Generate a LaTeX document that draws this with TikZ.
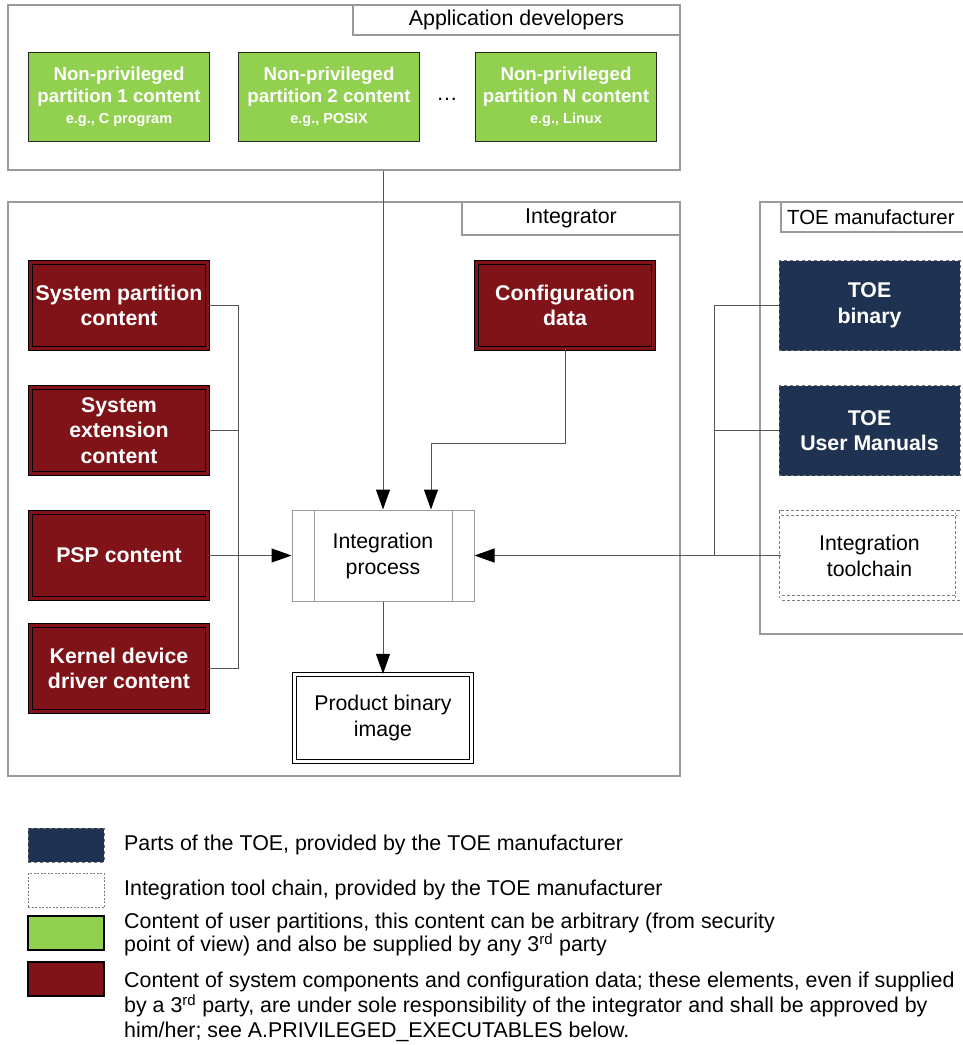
\documentclass[tikz,border=0pt]{standalone}
\usepackage{fontspec}
\setmainfont{Liberation Sans}
\usetikzlibrary{arrows.meta}
\definecolor{gfill}{HTML}{92D050}
\definecolor{rfill}{HTML}{7F1318}
\definecolor{nfill}{HTML}{1F3251}
\definecolor{framec}{HTML}{9A9A9A}
\definecolor{connc}{HTML}{555555}
\begin{document}
\begin{tikzpicture}[x=1pt,y=-1pt,
  grp/.style={draw=framec, line width=1.1pt},
  lbl/.style={font=\fontsize{21.4}{25}\selectfont, inner sep=0pt},
  gbox/.style={draw=black!85, line width=1.3pt, fill=gfill, minimum width=181pt, minimum height=89pt, text=white, align=center, inner sep=0pt, font=\bfseries\fontsize{18.7}{22}\selectfont},
  rbox/.style={draw=black, double=rfill, double distance=3pt, line width=1.1pt, fill=rfill, minimum width=177pt, minimum height=86pt, text=white, align=center, inner sep=0pt, font=\bfseries\fontsize{21.3}{25.5}\selectfont},
  nbox/.style={draw=black!55, dashed, line width=0.8pt, fill=nfill, minimum width=181pt, minimum height=90pt, text=white, align=center, inner sep=0pt, font=\bfseries\fontsize{21.3}{25.5}\selectfont},
  tcbox/.style={draw=gray, dash pattern=on 3pt off 2pt, double=white, double distance=4pt, line width=0.8pt, fill=white, minimum width=176pt, minimum height=85pt, align=center, inner sep=0pt, font=\fontsize{21.3}{26}\selectfont},
  ipbox/.style={draw=framec, line width=1pt, fill=white, minimum width=182pt, minimum height=91pt, align=center, inner sep=0pt, font=\fontsize{21.3}{26}\selectfont},
  pbbox/.style={draw=black, double=white, double distance=2.5pt, line width=1.3pt, fill=white, minimum width=177pt, minimum height=87pt, align=center, inner sep=0pt, font=\fontsize{21.3}{26}\selectfont},
  conn/.style={draw=connc, line width=1pt},
  arr/.style={conn, -{Triangle[length=20pt,width=14pt,color=black]}},
  sw/.style={minimum width=76pt, minimum height=34pt, inner sep=0pt}
]
\useasboundingbox (0,0) rectangle (962,1045);
\fill[white] (0,0) rectangle (962,1045);

% Application developers
\node[grp, minimum width=672pt, minimum height=165pt, inner sep=0pt] (ad) at (344,87.5) {};
\node[grp, minimum width=327pt, minimum height=30pt, inner sep=0pt, lbl] (adl) at (516.5,20) {Application developers};
\node[gbox] (g1) at (119,97) {Non-privileged\\partition 1 content\\[-1pt]{\fontsize{14.5}{17}\selectfont e.g., C program}};
\node[gbox] (g2) at (329,97) {Non-privileged\\partition 2 content\\[-1pt]{\fontsize{14.5}{17}\selectfont e.g., POSIX}};
\node[gbox] (g3) at (566,97) {Non-privileged\\partition N content\\[-1pt]{\fontsize{14.5}{17}\selectfont e.g., Linux}};
\node[lbl] (dots) at (447,99) {\dots};

% Integrator
\node[grp, minimum width=672pt, minimum height=574pt, inner sep=0pt] (ig) at (344,489) {};
\node[grp, minimum width=218pt, minimum height=33pt, inner sep=0pt, lbl] (igl) at (571,218.5) {Integrator};
\node[rbox] (sp) at (119,305.5) {System partition\\content};
\node[rbox] (se) at (119,430.5) {System\\extension\\content};
\node[rbox] (psp) at (119,555.5) {PSP content};
\node[rbox] (kd) at (119,668.5) {Kernel device\\driver content};
\node[rbox] (cfg) at (565,305.5) {Configuration\\data};
\node[ipbox] (ip) at (383,555.5) {Integration\\process};
\draw[framec, line width=1pt] ([xshift=23pt]ip.north west) -- ([xshift=23pt]ip.south west);
\draw[framec, line width=1pt] ([xshift=-22pt]ip.north east) -- ([xshift=-22pt]ip.south east);
\node[pbbox] (pb) at (383,718) {Product binary\\image};

% TOE manufacturer
\draw[grp] (975,202) -- (760,202) -- (760,634) -- (975,634);
\draw[grp] (975,232) -- (781,232) -- (781,202);
\node[lbl, anchor=west, font=\fontsize{20.4}{24}\selectfont] (tmfl) at (787,217) {TOE manufacturer};
\node[nbox] (tb) at (869.5,305.5) {TOE\\binary};
\node[nbox] (tm) at (869.5,430.5) {TOE\\User Manuals};
\node[tcbox] (tc) at (869.5,555.5) {Integration\\toolchain};

% connectors
\draw[arr] (ad.south -| ip.north) -- (ip.north);
\draw[arr] (cfg.south) -- ++(0,94) -| ([xshift=48pt]ip.north);
\coordinate (bl) at (238,305.5);
\draw[conn] (sp.east) -- (bl) -- (bl |- kd.east) -- (kd.east);
\draw[conn] (se.east) -- (se.east -| bl);
\draw[arr] (psp.east) -- (ip.west);
\coordinate (br) at (714,305.5);
\draw[conn] (tb.west) -- (br) -- (br |- tc.west);
\draw[conn] (tm.west) -- (tm.west -| br);
\draw[arr] (tc.west) -- (ip.east);
\draw[arr] (ip.south) -- (pb.north);

% legend
\node[sw, fill=nfill, draw=black!55, dashed, line width=1pt] (s1) at (66,845) {};
\node[sw, fill=white, draw=gray, dash pattern=on 2pt off 1.5pt, line width=1pt] (s2) at (66,890.5) {};
\node[sw, fill=gfill, draw=black, line width=1.5pt] (s3) at (66,933) {};
\node[sw, fill=rfill, draw=black, line width=2pt] (s4) at (66,979) {};
\node[lbl, anchor=west] (t1) at (124,845) {Parts of the TOE, provided by the TOE manufacturer};
\node[lbl, anchor=west] (t2) at (124,890) {Integration tool chain, provided by the TOE manufacturer};
\node[lbl, anchor=west, align=left, font=\fontsize{21.4}{23}\selectfont] (t3) at (124,934.5) {Content of user partitions, this content can be arbitrary (from security\\point of view) and also be supplied by any 3\textsuperscript{rd} party};
\node[lbl, anchor=west, align=left, font=\fontsize{21.4}{25}\selectfont] (t4) at (124,1007) {Content of system components and configuration data; these elements, even if supplied\\by a 3\textsuperscript{rd} party, are under sole responsibility of the integrator and shall be approved by\\him/her; see A.PRIVILEGED\_EXECUTABLES below.};
\end{tikzpicture}
\end{document}
